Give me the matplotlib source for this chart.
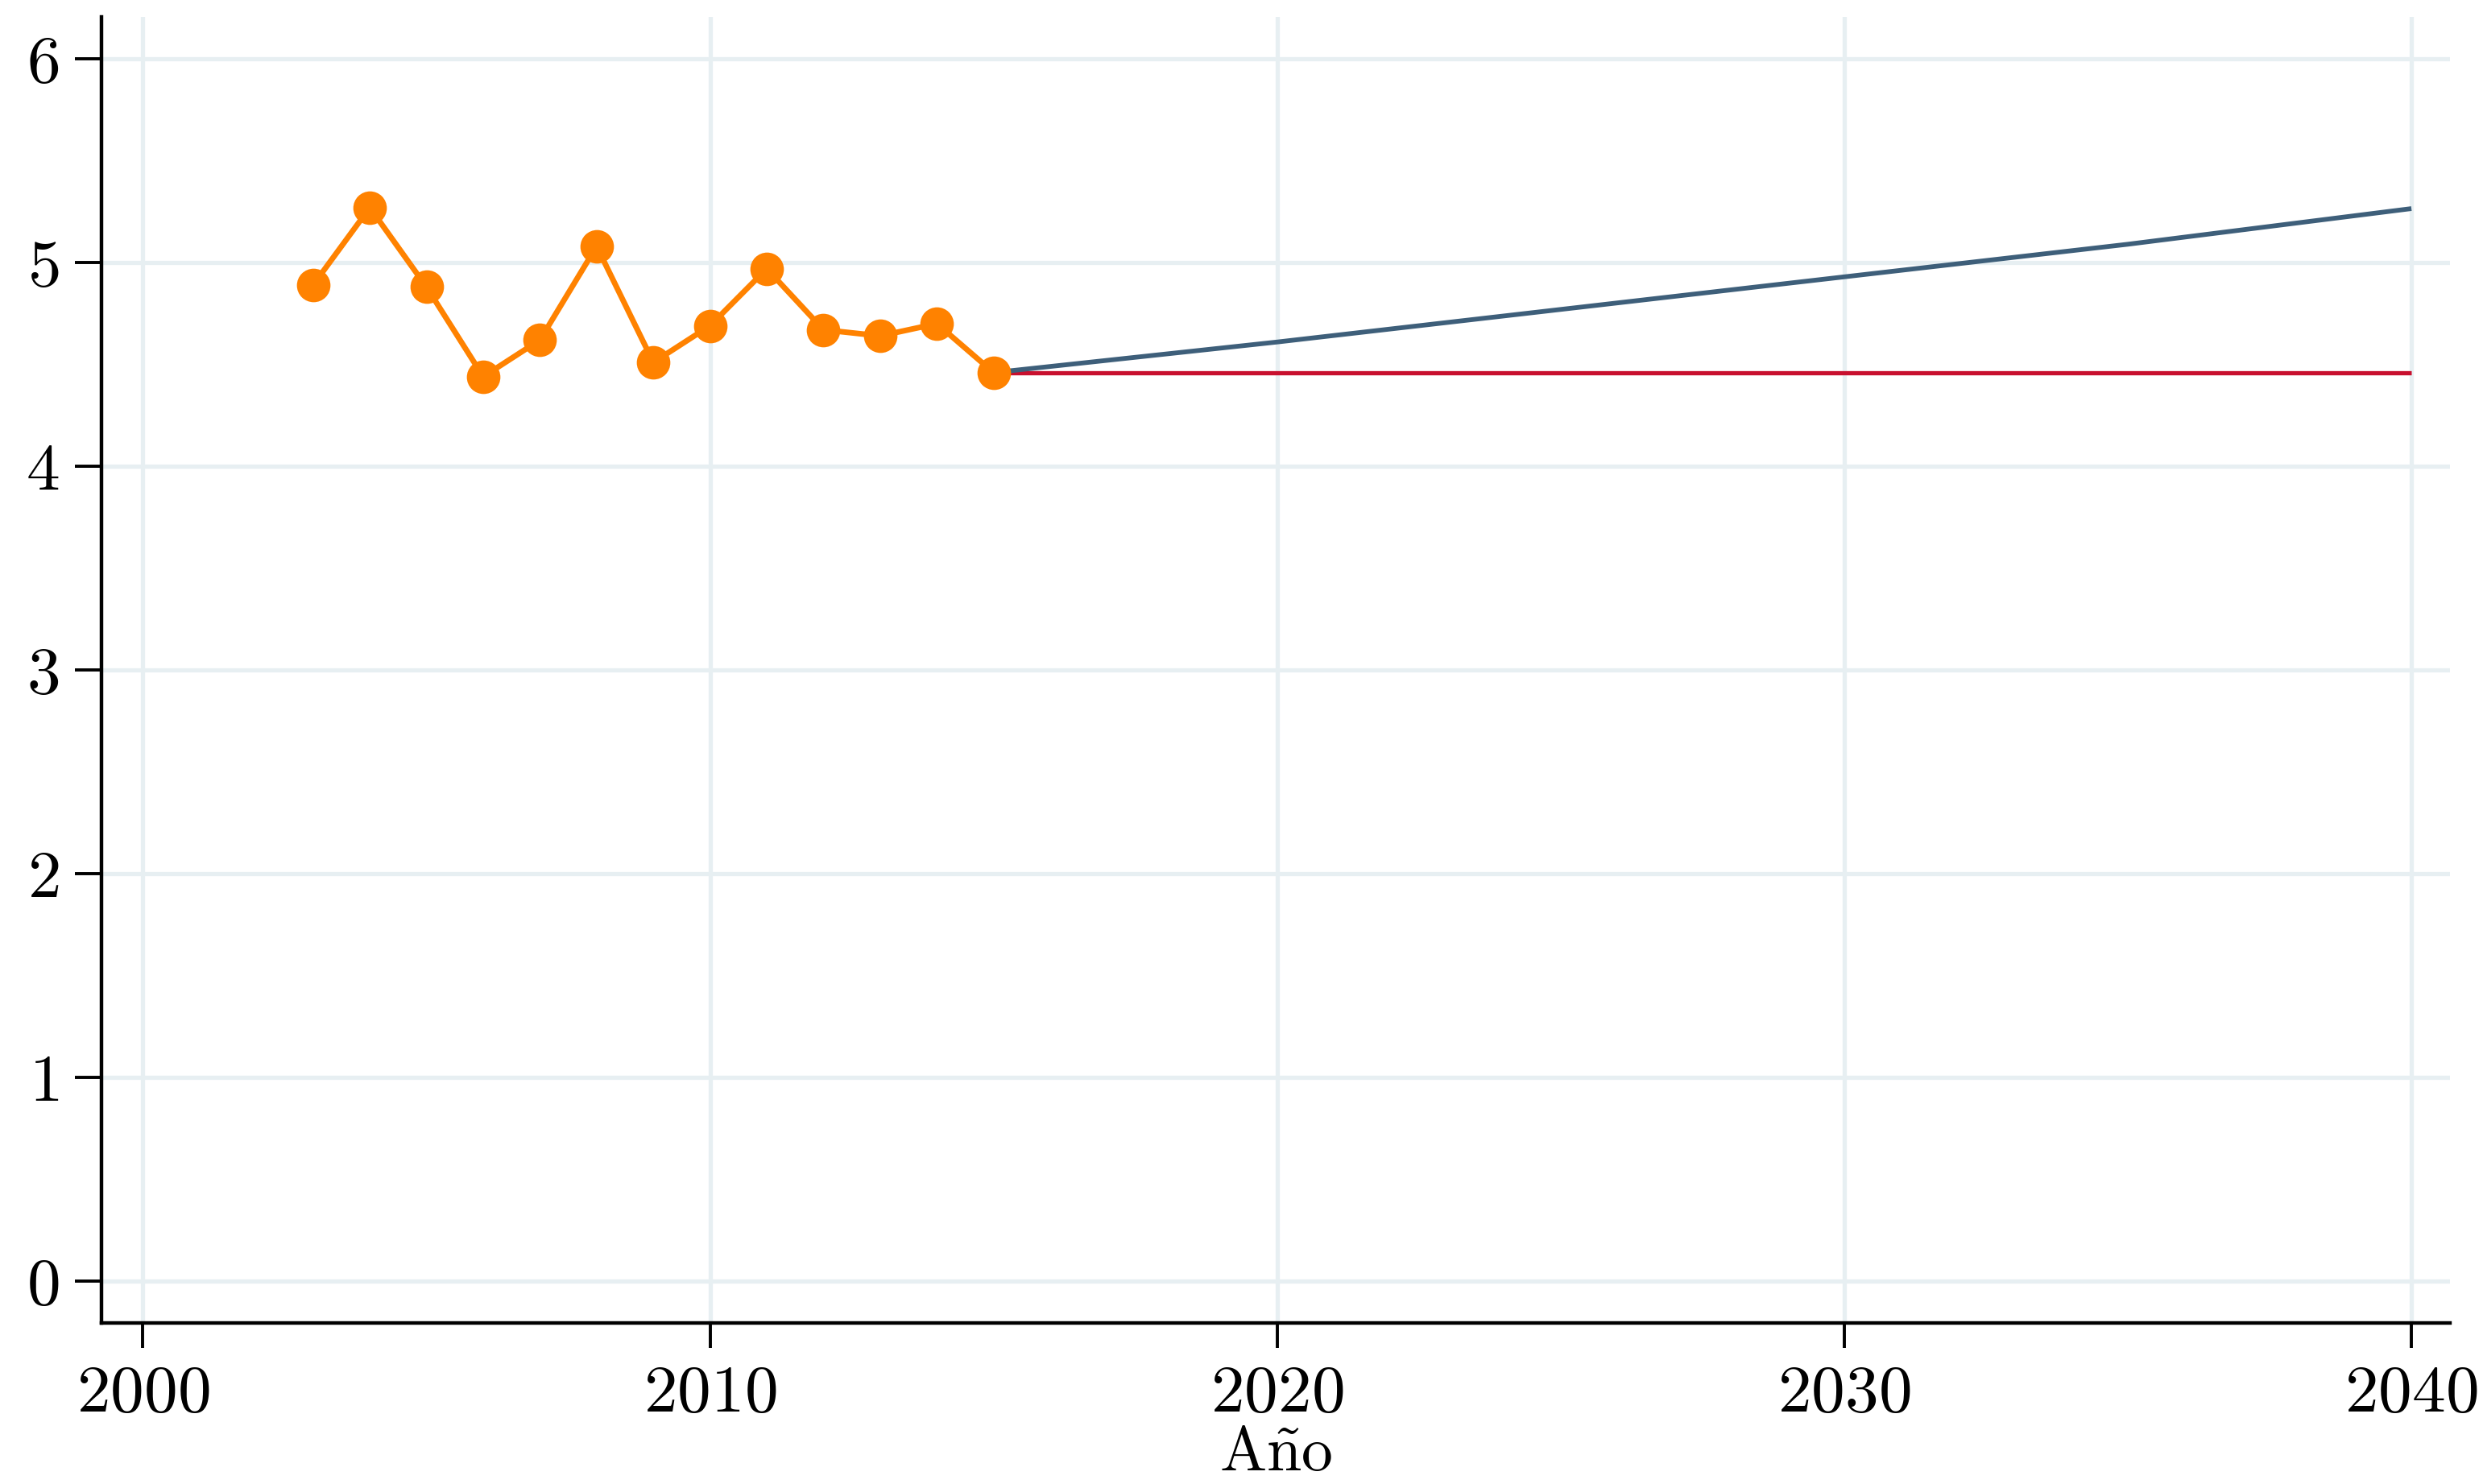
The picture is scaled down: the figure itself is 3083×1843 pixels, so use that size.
import matplotlib
matplotlib.use("Agg")
import matplotlib.pyplot as plt

# observed series
years_obs = [2003, 2004, 2005, 2006, 2007, 2008, 2009, 2010, 2011, 2012, 2013, 2014, 2015]
vals_obs = [4.89, 5.27, 4.88, 4.44, 4.62, 5.08, 4.51, 4.69, 4.97, 4.67, 4.64, 4.70, 4.46]

# projections
years_proj = [2015, 2020, 2025, 2030, 2035, 2040]
vals_growth = [4.46, 4.61, 4.77, 4.93, 5.09, 5.265]
vals_flat = [4.46, 4.46, 4.46, 4.46, 4.46, 4.46]

xticks = [2000, 2010, 2020, 2030, 2040]
yticks = [0, 1, 2, 3, 4, 5, 6]

plt.rcParams['font.family'] = 'cmr10'
plt.rcParams['mathtext.fontset'] = 'cm'
plt.rcParams['axes.formatter.use_mathtext'] = True

grid_col = '#e7eff2'

fig = plt.figure(figsize=(15.415, 9.215), dpi=200)
ax = fig.add_axes([0.0409, 0.1085, 0.9458, 0.8801])

ax.plot(years_proj, vals_flat, color='#c8102e', lw=1.9, zorder=3, solid_capstyle='butt')
ax.plot(years_proj, vals_growth, color='#3e5f7a', lw=2.1, zorder=4, solid_capstyle='butt')
ax.plot(years_obs, vals_obs, color='#ff8200', lw=2.5, marker='o', markersize=15,
        markeredgewidth=0, zorder=5)

ax.set_xlim(1999.27, 2040.68)
ax.set_ylim(-0.206, 6.206)
ax.set_xticks(xticks)
ax.set_yticks(yticks)

ax.grid(True, color=grid_col, lw=1.9, zorder=0)
ax.set_axisbelow(True)

for s in ['top', 'right']:
    ax.spines[s].set_visible(False)
for s in ['left', 'bottom']:
    ax.spines[s].set_linewidth(1.6)
    ax.spines[s].set_color('black')

ax.tick_params(axis='y', length=12, width=1.4, pad=7, labelsize=30)
ax.tick_params(axis='x', length=11, width=1.4, pad=8, labelsize=30)

ax.set_xlabel(r'$\mathrm{A\tilde{n}o}$', fontsize=28, labelpad=1)

fig.savefig('out.png', dpi=200, facecolor='white')
